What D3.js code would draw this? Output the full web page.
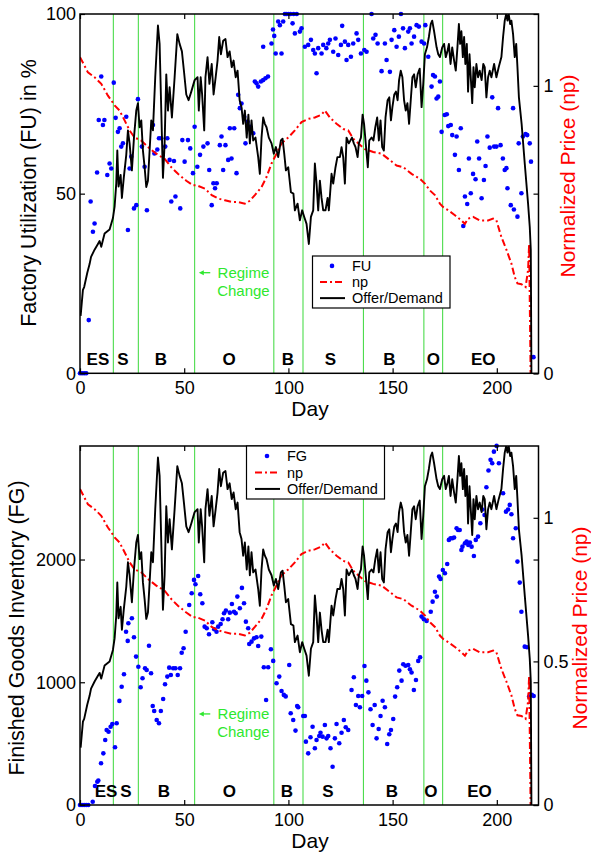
<!DOCTYPE html>
<html><head><meta charset="utf-8">
<script src="https://cdn.jsdelivr.net/npm/d3@7"></script>
<style>body{margin:0;background:#fff} text{font-family:"Liberation Sans",Arial,Helvetica,sans-serif}</style>
</head><body><svg id="c" width="591" height="858"></svg>
<script>
// ---------------- DATA ----------------
const xTicks = [0, 50, 100, 150, 200];
const fuTicks = [0, 50, 100];
const fgTicks = [0, 1000, 2000];
const npTicksTop = [0, 1];
const npTicksBottom = [0, 0.5, 1];
const regimeDays = [16, 28, 55, 93, 107, 136, 165, 174];
const regimeLabels = ["ES", "S", "B", "O", "B", "S", "B", "O", "EO"];
const regimeLabelDaysTop = [8.6, 20.6, 38.8, 71.5, 99.7, 120.1, 148.4, 169.5, 193.5];
const regimeLabelDaysBottom = [12.5, 22, 40.3, 71.7, 99.3, 118.9, 149.6, 168.3, 191.7];

// Offer/Demand (right axis, np units)
const odDays = [0.3,1.4,2,3.5,4.6,5.3,7,8.6,9.4,10.2,11.8,14.2,15.8,16.6,17.4,17.9,18.5,19.5,20.1,21,22.2,23,23.8,24.9,25.9,27,27.8,28.6,29.4,30.2,31,31.8,32.6,33.4,34.2,35,36.1,37.4,38.2,39,39.8,40.6,41.4,42.2,43,44.1,45.4,46.7,47.8,48.9,49.9,51,52.1,53.4,55,56.4,57,57.9,58.6,59.6,60.2,61.2,62.1,63.2,64.1,65.1,66,66.8,67.6,68.7,69.8,70.8,71.8,72.8,73.7,74.7,75.6,76.6,77.5,78.3,79.1,80,80.8,81.5,82.3,83.1,84.2,85.5,86.3,87.1,87.9,88.7,89.5,90.6,91.9,93,94,95.1,96.4,97.2,98,98.8,99.9,101.2,102.4,103.1,104.4,105.5,106.6,107.6,108.7,109.8,110.8,111.9,112.7,113.5,114.3,115.1,115.9,116.7,117.8,118.8,119.4,120.7,121.5,122.6,123.5,124.7,125.5,126.3,127.1,127.9,129,130.5,131.4,132.2,133.2,133.8,134.8,135.6,136.3,137.4,138.1,138.8,139.9,140.8,141.7,142.6,143.4,144.2,145,145.8,146.6,147.6,148.4,149.2,149.9,150.8,151.6,152.4,153.1,153.9,154.7,155.5,156.3,157.1,157.9,158.7,159.5,160.3,161.1,162,163,163.9,164.7,165.5,166.5,167.4,168.3,169,169.9,171.1,171.9,172.7,173.8,174.7,175.5,176.3,177,177.8,178.6,179.5,180.3,181.1,181.8,182.4,183,183.7,184.3,184.9,185.6,186.2,186.9,187.5,188.2,188.8,189.4,190.2,191,191.8,192.7,193.5,194.2,195,195.8,196.6,197.4,198.7,199.8,200.9,202.2,203,203.8,204.5,205.1,205.7,206.4,207,207.8,208.6,209.3,209.9,210.6,211.9,213.4,215,215.8,216.3,216.6];
const odValues = [0.20,0.29,0.30,0.35,0.38,0.405,0.43,0.45,0.46,0.44,0.486,0.50,0.54,0.58,0.66,0.775,0.65,0.69,0.61,0.68,0.76,0.845,0.80,0.706,0.82,0.914,0.94,0.856,0.88,0.775,0.717,0.648,0.67,0.775,0.88,0.845,1.03,1.21,1.146,0.914,0.68,0.80,1.04,0.914,0.995,0.89,1.03,1.18,1.146,1.12,1.05,0.97,0.95,0.98,1.02,1.03,0.914,1.03,0.97,0.845,1.03,1.10,1.007,1.076,0.97,1.03,1.088,1.17,1.11,1.157,1.163,1.10,1.12,1.065,1.088,1.03,1.053,0.95,0.926,0.868,0.914,0.82,0.90,0.80,0.88,0.81,0.82,0.752,0.694,0.82,0.89,0.868,0.856,0.82,0.80,0.764,0.787,0.752,0.81,0.816,0.764,0.706,0.717,0.63,0.625,0.567,0.59,0.532,0.567,0.544,0.52,0.45,0.544,0.567,0.73,0.66,0.567,0.67,0.61,0.567,0.567,0.61,0.567,0.694,0.66,0.717,0.752,0.752,0.787,0.752,0.66,0.82,0.80,0.82,0.80,0.787,0.752,0.80,0.82,0.90,0.868,0.775,0.717,0.81,0.82,0.81,0.856,0.89,0.81,0.88,0.787,0.775,0.89,0.95,0.96,0.88,0.926,0.97,0.98,0.95,1.02,1.053,1.03,0.95,0.914,0.94,0.868,0.95,1.03,1.04,0.995,1.04,1.06,0.926,1.007,1.11,1.134,1.17,1.215,1.227,1.19,1.134,1.11,1.10,1.134,1.146,1.10,1.12,1.146,1.076,1.134,1.088,1.053,1.134,1.215,1.146,1.19,1.10,1.17,1.076,1.146,0.98,1.11,1.03,0.94,1.065,0.995,1.076,1.03,1.053,1.02,1.076,1.065,0.96,1.03,1.053,1.03,1.076,1.03,1.065,1.10,1.17,1.227,1.25,1.227,1.25,1.215,1.227,1.18,1.10,1.146,1.065,0.96,0.868,0.73,0.59,0.51,0.43,0];

// Normalized price np
const npDays = [0,3.8,7,10.2,13.4,15,16.6,19,21.4,23.8,26.2,29.4,32.6,36.6,40.6,43.8,47,51,54.2,56,60,63.2,66.3,69.5,72.8,75.9,79.1,81.5,83.9,87.1,89.5,91.9,94.3,96.7,99.9,103.1,106.3,109.5,112.7,115.9,117.5,119.9,123.1,126.3,128.7,131.1,133.5,136.7,140.7,144.7,147.9,151.9,155.1,159.1,163.1,165.5,167.9,170.3,172.7,174.3,176.7,179.9,183,184.7,186.2,188.6,191.8,195.8,198.2,199.8,202.2,204.6,207,208.6,209.9,211.8,213.8,215,215.5,216.2];
const npValues = [1.10,1.047,1.03,1.007,0.966,0.95,0.932,0.914,0.88,0.845,0.82,0.81,0.787,0.764,0.746,0.717,0.694,0.67,0.654,0.654,0.642,0.62,0.608,0.602,0.596,0.596,0.59,0.60,0.62,0.648,0.683,0.73,0.764,0.80,0.82,0.845,0.874,0.885,0.89,0.90,0.914,0.89,0.868,0.85,0.845,0.816,0.80,0.78,0.77,0.764,0.746,0.723,0.717,0.694,0.677,0.66,0.636,0.62,0.59,0.578,0.567,0.55,0.532,0.52,0.538,0.544,0.532,0.532,0.538,0.532,0.474,0.43,0.382,0.335,0.3125,0.31,0.30,0.36,0.45,0];

// Factory utilization FU (%)
const fuDays = [0,1,2,3,4.2,5.1,6.2,7,8.2,9,10.2,11,11.7,13.1,14.2,15,16.2,17.1,18.2,19,19.8,20.6,22.2,23,23.8,24.6,25.9,27,27.8,29.7,31,32.1,35,35.7,37.1,37.9,39,40.9,41.9,43,43.8,45.1,45.8,48.1,49.1,50.2,51.8,52.9,54.2,55,56.3,57.6,59.2,61.2,62,63.2,64,64.8,65.6,67.1,67.9,68.7,69.8,71.1,71.9,72.7,74,75.1,75.9,76.7,77.5,78.8,79.4,80.4,81.5,83.1,83.9,84.7,85.5,86.8,87.9,87.9,89,90.2,91.9,92.6,93.2,93.9,95.1,95.9,96.7,97.5,98.3,99,100,101,102,102.5,103.1,104,105.5,106.3,107.9,109.5,110.8,111.9,112.7,113.5,114.3,115.9,116.7,118.2,119.1,119.9,121.5,122.6,123.9,125.2,125.8,127.1,127.9,128.7,130,131.1,132.7,133.5,134.8,136.4,137.5,139.9,140.7,141.8,142.8,144.7,146.3,147.1,148.7,149.5,150.8,151.9,153,154,155,155.9,157.5,158.3,159.1,160.3,161.5,162.6,163.9,165.1,165.7,167.1,168.7,169.4,170.3,171.1,171.9,172.7,173.5,175,176,176.7,177.9,178.6,179.9,180.7,181.8,182.7,183.9,184.7,185.8,186.6,187.5,188.6,189.8,190.6,191.5,192.7,193.8,194.6,195.5,196.6,197.8,198.7,199.8,200.6,201.8,202.9,203.8,204.6,205.1,206.7,207.8,208.2,209.9,210.5,211.8,212.5,213.8,214.6,215.8,216.4,217.6];
const fuValues = [0,0,0,0,14.8,47.8,39.4,41.7,55.9,70.5,82.6,69.1,70.5,55.2,58.4,57,80.9,71.1,67.2,68.2,63.1,64,71.4,39.9,57,60.3,45.9,46.8,76.3,63.1,57.5,45.4,69.1,61.2,62.3,65.4,65.4,63.1,65.4,59.4,47.8,59.1,49.2,45.9,64.9,58.9,64.9,62.6,55.7,68.6,57.5,60.8,63.1,64,56.6,46.8,52.9,51.5,52.9,63.5,65.9,56.6,63.5,59.4,68.2,59.8,68.2,55.7,77.5,73.8,75.1,71.4,64,70,68.6,66.8,81.2,80.7,79.8,81.2,81.6,90.9,82.1,82.6,91.8,95.7,93.9,89,97.9,96.9,89,97.9,100,100,100,100,97.4,100,94.6,100,95.1,96,90.9,91.4,92.8,90,89,83.5,90.5,89,91.4,90.5,91.8,92.8,89.5,93.2,88.6,91.4,96.7,92.3,87.2,91.4,88.1,91.8,94.6,92.8,89,90,89.5,100,93.2,94.2,91.8,84.1,91.8,87.2,83.9,92.8,95.5,90.9,93.7,100,96,90.5,95.1,96,91.8,93.7,96.9,96.5,92.3,91.8,96.9,88.1,79.8,83,82.6,76.5,77,81.2,67.2,71.9,72.1,68.8,69.1,66.3,60.8,65.9,56.6,68.2,41,49.2,47.1,59.8,50.1,55.5,54,64.5,59.8,48.7,53.8,57.7,65.9,62.8,76.8,63.1,63.1,73.8,63.5,59.8,56.6,57.1,51.5,46.8,73.8,45.6,43.6,64,50.1,65.9,66.6,66.3,64,58.9,4.5];

// Finished goods inventory FG
const fgDays = [0,1,2,3,4,6.1,7.2,8.3,8.8,10.1,11.2,12.1,12.8,13.7,14.7,15.5,16.8,17.6,18.9,20,21.1,22.1,22.9,23.2,24.9,25.9,26.9,28,29.1,30,31.2,32,33.1,34.1,34.9,35.6,36.8,37.9,38.8,39.9,40.8,41.9,42.8,43.6,44.7,45.8,46.9,48,48.8,49.7,50.7,52.4,53.6,54.7,55.4,56.7,57.7,58.7,59.8,60.8,61.9,63.5,64.4,65.5,66.3,67.5,68.4,69.1,70,71.1,71.9,72.9,73.9,74.7,75.5,76.7,77.7,78.7,79.6,80.7,81.2,82.3,83.5,84.7,85.5,87,88.2,89.3,90.3,91.6,92.7,94.3,95.6,96.7,97.8,98.7,100.4,101.1,102.3,103.4,104.2,104.7,107.1,107.9,108.4,109.5,110.6,111.6,112.7,113.5,114.8,115.4,116.4,117.5,118.3,119.1,120.2,121.2,122.3,123.1,124.4,125.5,126.6,127.5,128.7,130.3,131.4,132.4,133.5,134.3,135.4,136.5,137.4,138.4,139.4,140.4,141.4,142.3,143.3,144.2,145.2,146.3,147.4,148.4,149.2,150.3,151.2,152.2,153.2,154.3,155.1,156.2,157.5,158.3,159.1,160.2,161.2,162.3,163.2,163.9,165,166.3,168.3,169.2,170.3,171.2,172.3,173,174.1,175.1,176.2,177,177.8,178.7,179.5,180.7,181.4,182.2,183,183.5,184.7,185.5,186.3,187.1,187.9,189,189.9,191,192.1,193.1,194.1,195,196,197,197.8,198.6,199.9,201,203,204.4,205.4,206.2,207,207.8,209.1,209.9,211,211.8,213.4,214.5,215.5,216.8,217.7];
const fgValues = [0,0,0,0,0,27,155,190,200,340,421,530,611,597,638,660,470,666,848,964,1065,1412,1337,1481,1521,1367,1209,1127,959,1033,1114,1100,1298,1073,807,766,693,666,766,864,984,1046,1119,1059,1114,1114,1059,1114,1241,1277,1412,1630,1725,1834,1799,1866,1717,1644,1453,1440,1391,1489,1432,1412,1453,1475,1513,1562,1584,1513,1567,1638,1575,1562,1698,1603,1769,1644,1494,1440,1312,1331,1358,1367,1296,1372,1122,856,1122,1269,1174,992,1046,929,897,885,1141,747,693,606,807,796,725,725,516,421,552,638,462,530,562,589,557,652,543,562,462,312,543,660,503,589,693,633,611,937,1041,815,888,796,888,1133,1013,918,780,652,815,543,619,725,850,796,497,576,611,701,883,959,1095,1013,1147,1135,1141,1106,1079,937,1019,1174,1204,1535,1513,1500,1575,1657,1738,1698,1861,1842,1915,1888,1964,2160,2173,2173,2180,2255,2241,2241,2078,2105,2133,2146,2119,2138,2105,2029,2160,2187,2296,2408,2363,2589,2725,2812,2785,2879,2926,2785,2540,2390,2408,2445,2369,2173,2255,1983,1812,1575,1290,1285,883,897,888];

// ---------------- DRAW ----------------
const svg = d3.select("#c");
const X0 = 80, X1 = 538.5;
const x = d3.scaleLinear().domain([0, 220]).range([X0, X1]);
const GREEN = "#4cdc4c", GTEXT = "#2ee82e";
const fmt = d3.format("~g");

function drawPanel(o) {
  const top = o.top, bottom = o.bottom;
  const yL = d3.scaleLinear().domain(o.leftDomain).range([bottom, top]);
  const yR = d3.scaleLinear().domain([0, 1.25]).range([bottom, top]);
  const g = svg.append("g");
  const clipId = "clip" + o.id;
  g.append("clipPath").attr("id", clipId).append("rect")
    .attr("x", X0).attr("y", top).attr("width", X1 - X0).attr("height", bottom - top);

  // regime lines
  g.selectAll("line.reg").data(regimeDays).join("line").attr("class", "reg")
    .attr("x1", d => x(d)).attr("x2", d => x(d)).attr("y1", top).attr("y2", bottom)
    .attr("stroke", GREEN).attr("stroke-width", 1.1);

  // regime labels
  g.selectAll("text.rl").data(d3.zip(regimeLabels, o.labelDays)).join("text").attr("class", "rl")
    .attr("x", d => x(d[1])).attr("y", o.labelY).attr("text-anchor", "middle")
    .attr("font-size", 17).attr("font-weight", "bold").text(d => d[0]);

  // dots (left axis)
  g.selectAll("circle").data(d3.zip(o.dotDays, o.dotValues)).join("circle")
    .attr("cx", d => x(d[0])).attr("cy", d => yL(d[1])).attr("r", 2.3).attr("fill", "#0000ff");

  // np line (right axis)
  const lineR = d3.line().x(d => x(d[0])).y(d => yR(d[1]));
  g.append("path").datum(d3.zip(npDays, npValues)).attr("d", lineR)
    .attr("fill", "none").attr("stroke", "#ff0000").attr("stroke-width", 2)
    .attr("stroke-dasharray", "7,3,2,3").attr("clip-path", `url(#${clipId})`);
  // offer/demand line (right axis)
  g.append("path").datum(d3.zip(odDays, odValues)).attr("d", lineR)
    .attr("fill", "none").attr("stroke", "#000").attr("stroke-width", 1.9)
    .attr("stroke-linejoin", "round").attr("clip-path", `url(#${clipId})`);

  // axes
  const fs = 18;
  g.append("g").attr("transform", `translate(0,${bottom})`)
    .call(d3.axisBottom(x).tickValues(xTicks).tickSize(-5).tickPadding(8).tickFormat(fmt));
  g.append("g").attr("transform", `translate(0,${top})`)
    .call(d3.axisTop(x).tickValues(xTicks).tickSize(-5).tickFormat(""));
  g.append("g").attr("transform", `translate(${X0},0)`)
    .call(d3.axisLeft(yL).tickValues(o.leftTicks).tickSize(-5).tickPadding(4).tickFormat(fmt));
  g.append("g").attr("transform", `translate(${X1},0)`)
    .call(d3.axisRight(yL).tickValues(o.leftTicks).tickSize(-5).tickFormat(""));
  g.append("g").attr("transform", `translate(${X1},0)`)
    .call(d3.axisRight(yR).tickValues(o.rightTicks).tickSize(-5).tickPadding(5).tickFormat(fmt));
  g.selectAll(".domain").remove();
  g.selectAll(".tick line").attr("stroke", "#000").attr("stroke-width", 1.2);
  g.selectAll(".tick text").attr("font-size", fs).attr("fill", "#000")
    .style("font-family", '"Liberation Sans",Arial,sans-serif');

  // frame
  g.append("rect").attr("x", X0).attr("y", top).attr("width", X1 - X0).attr("height", bottom - top)
    .attr("fill", "none").attr("stroke", "#000").attr("stroke-width", 1.5);

  // axis titles
  g.append("text").attr("x", 310).attr("y", o.dayY).attr("text-anchor", "middle")
    .attr("font-size", 21).text("Day");
  g.append("text").attr("transform", `translate(${o.leftTitleX},${o.leftTitleY}) rotate(-90)`)
    .attr("text-anchor", "middle").attr("font-size", 21.5).text(o.leftTitle);
  g.append("text").attr("transform", `translate(${o.rightTitleX},${o.rightTitleY}) rotate(-90)`)
    .attr("text-anchor", "middle").attr("font-size", 21).attr("fill", "#ff0000").text("Normalized Price (np)");

  // regime change annotation
  const ay = yL(o.annotValue);
  const ax1 = x(62.5), ax0 = x(57);
  g.append("line").attr("x1", ax0 + 4).attr("x2", ax1).attr("y1", ay).attr("y2", ay)
    .attr("stroke", GTEXT).attr("stroke-width", 1.3);
  g.append("path").attr("d", `M${ax0},${ay} L${ax0 + 5},${ay - 2.5} L${ax0 + 5},${ay + 2.5} Z`).attr("fill", GTEXT);
  g.append("text").attr("x", x(66)).attr("y", ay + 5.5).attr("font-size", 15).attr("fill", GTEXT).text("Regime");
  g.append("text").attr("x", x(65.8)).attr("y", ay + 23.5).attr("font-size", 15).attr("fill", GTEXT).text("Change");

  // legend
  const L = o.legend;
  const lg = g.append("g");
  lg.append("rect").attr("x", L.x).attr("y", L.y).attr("width", L.w).attr("height", L.h)
    .attr("fill", "#fff").attr("stroke", "#000").attr("stroke-width", 1.2);
  const rows = [L.y + L.h * 0.19, L.y + L.h * 0.5, L.y + L.h * 0.81];
  lg.append("circle").attr("cx", L.mx).attr("cy", rows[0]).attr("r", 2.3).attr("fill", "#0000ff");
  lg.append("line").attr("x1", L.mx - 12).attr("x2", L.mx + 13).attr("y1", rows[1]).attr("y2", rows[1])
    .attr("stroke", "#ff0000").attr("stroke-width", 2).attr("stroke-dasharray", "7,3,2,3");
  lg.append("line").attr("x1", L.mx - 12).attr("x2", L.mx + 13).attr("y1", rows[2]).attr("y2", rows[2])
    .attr("stroke", "#000").attr("stroke-width", 2);
  [o.dotName, "np", "Offer/Demand"].forEach((t, i) => {
    lg.append("text").attr("x", L.tx).attr("y", rows[i] + 5).attr("font-size", 14.5).text(t);
  });
}

drawPanel({
  id: "a", top: 14, bottom: 373.3, leftDomain: [0, 100], leftTicks: fuTicks, rightTicks: npTicksTop,
  dotDays: fuDays, dotValues: fuValues, dotName: "FU", labelDays: regimeLabelDaysTop, labelY: 365,
  dayY: 416, leftTitle: "Factory Utilization (FU) in %", leftTitleX: 36, leftTitleY: 193,
  rightTitleX: 575, rightTitleY: 176, annotValue: 28,
  legend: {x: 312.5, y: 256, w: 137.5, h: 52, mx: 332, tx: 352}
});
drawPanel({
  id: "b", top: 446, bottom: 805, leftDomain: [0, 2925], leftTicks: fgTicks, rightTicks: npTicksBottom,
  dotDays: fgDays, dotValues: fgValues, dotName: "FG", labelDays: regimeLabelDaysBottom, labelY: 797,
  dayY: 848, leftTitle: "Finished Goods Inventory (FG)", leftTitleX: 24, leftTitleY: 628,
  rightTitleX: 587, rightTitleY: 628, annotValue: 742,
  legend: {x: 246.5, y: 446, w: 138, h: 53, mx: 267, tx: 287}
});
</script></body></html>
